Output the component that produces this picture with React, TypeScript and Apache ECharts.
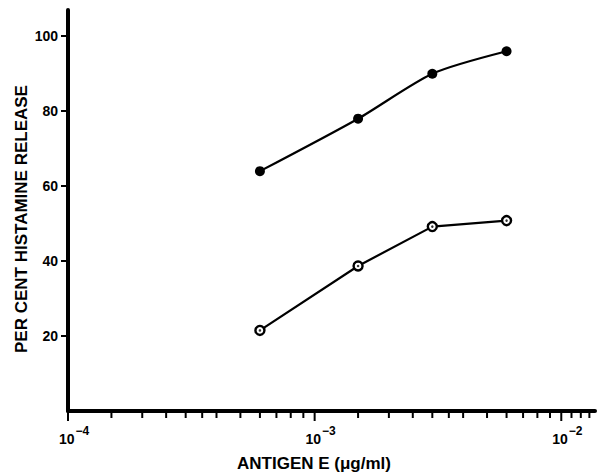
import React, { useEffect, useRef } from "react";
import * as echarts from "echarts";

// Antigen E concentration (µg/ml)
const concentrations = [6e-4, 1.5e-3, 3e-3, 6e-3];
// Per cent histamine release
const filledSeries = [64, 78, 90, 96];
const openSeries = [21.5, 38.7, 49.2, 50.8];
// Tick labels / positions
const yTickValues = [20, 40, 60, 80, 100];
const xMajorTicks = [1e-4, 1e-3, 1e-2];
const xMinorTicks = [
  1.5e-4, 2e-4, 2.5e-4, 3e-4, 3.5e-4, 4e-4, 5e-4, 6e-4, 7e-4, 8e-4, 9e-4,
  1.5e-3, 2e-3, 2.5e-3, 3e-3, 3.5e-3, 4e-3, 5e-3, 6e-3, 7e-3, 8e-3, 9e-3,
  1.1e-2, 1.2e-2, 1.3e-2,
];
const yTitle = "PER CENT HISTAMINE RELEASE";
const xTitle = "ANTIGEN E (\u03bcg/ml)";

const FONT = "'Liberation Sans', Arial, sans-serif";

export default function App() {
  const ref = useRef<HTMLDivElement>(null);
  useEffect(() => {
    if (!ref.current) return;
    const chart = echarts.init(ref.current, null, { renderer: "svg" });
    const tickRender = (len: number) => (params: any, api: any) => {
      const p = api.coord([api.value(0), 0]);
      return {
        type: "line",
        shape: { x1: p[0], y1: p[1], x2: p[0], y2: p[1] + len },
        style: { stroke: "#000", lineWidth: 2 },
      };
    };
    chart.setOption({
      animation: false,
      backgroundColor: "#fff",
      grid: { left: 68, right: 0, top: 10, bottom: 64 },
      xAxis: {
        type: "log",
        logBase: 10,
        min: 1e-4,
        max: 0.0137,
        axisLine: { show: true, lineStyle: { color: "#000", width: 4 } },
        axisTick: { show: false },
        splitLine: { show: false },
        minorTick: { show: false },
        axisLabel: {
          margin: 14,
          formatter: (v: number) => {
            const l = Math.log10(v);
            const e = Math.round(l);
            if (Math.abs(l - e) > 1e-6) return "";
            return `{b|10}{s|\u2212${-e}}`;
          },
          rich: {
            b: {
              fontFamily: FONT,
              fontWeight: "bold",
              fontSize: 14,
              color: "#000",
              verticalAlign: "bottom",
              padding: [7, 1, 0, 12],
            },
            s: {
              fontFamily: FONT,
              fontWeight: "bold",
              fontSize: 12,
              color: "#000",
              verticalAlign: "top",
            },
          },
        },
      },
      yAxis: {
        type: "value",
        min: 0,
        max: 107,
        interval: 20,
        axisLine: { show: true, lineStyle: { color: "#000", width: 4 } },
        axisTick: {
          show: true,
          customValues: yTickValues,
          length: 7,
          lineStyle: { color: "#000", width: 2 },
        },
        splitLine: { show: false },
        axisLabel: {
          customValues: yTickValues,
          margin: 10,
          fontFamily: FONT,
          fontWeight: "bold",
          fontSize: 14,
          color: "#000",
          formatter: (v: number) => (yTickValues.includes(v) ? String(v) : ""),
        },
      },
      graphic: [
        {
          type: "text",
          x: 21,
          y: 219,
          rotation: Math.PI / 2,
          style: {
            text: yTitle,
            fontFamily: FONT,
            fontWeight: "bold",
            fontSize: 17,
            fill: "#000",
            align: "center",
            verticalAlign: "middle",
          },
        },
        {
          type: "text",
          x: 314,
          y: 463,
          style: {
            text: xTitle,
            fontFamily: FONT,
            fontWeight: "bold",
            fontSize: 17,
            fill: "#000",
            align: "center",
            verticalAlign: "middle",
          },
        },
      ],
      series: [
        {
          type: "line",
          data: concentrations.map((c, i) => [c, filledSeries[i]]),
          smooth: 0.25,
          symbol: "circle",
          symbolSize: 10,
          lineStyle: { color: "#000", width: 2.2 },
          itemStyle: { color: "#000" },
          z: 3,
        },
        {
          type: "line",
          data: concentrations.map((c, i) => [c, openSeries[i]]),
          symbol: "circle",
          symbolSize: 9,
          lineStyle: { color: "#000", width: 2.2 },
          itemStyle: { color: "#fff", borderColor: "#000", borderWidth: 2.4 },
          z: 3,
        },
        {
          type: "scatter",
          data: concentrations.map((c, i) => [c, openSeries[i]]),
          symbol: "circle",
          symbolSize: 2.5,
          itemStyle: { color: "#000" },
          z: 4,
        },
        {
          type: "custom",
          data: xMajorTicks.map((v) => [v, 0]),
          renderItem: tickRender(10),
          clip: false,
          z: 1,
        },
        {
          type: "custom",
          data: xMinorTicks.map((v) => [v, 0]),
          renderItem: tickRender(7),
          clip: false,
          z: 1,
        },
      ],
    });
    return () => chart.dispose();
  }, []);
  return (
    <div
      ref={ref}
      style={{ position: "absolute", left: 0, top: 0, width: 598, height: 475 }}
    />
  );
}
